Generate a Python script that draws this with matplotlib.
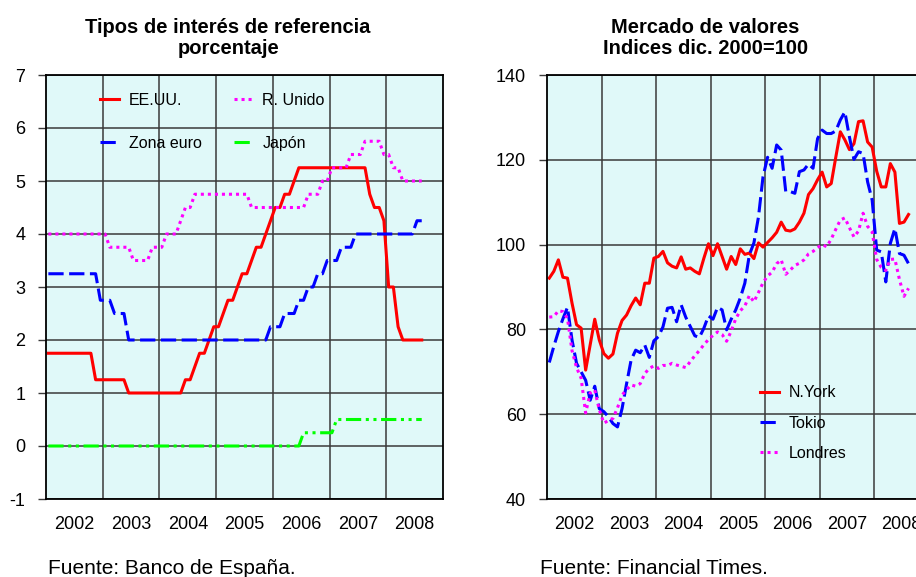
import numpy as np
import matplotlib.pyplot as plt

years = ['2002', '2003', '2004', '2005', '2006', '2007', '2008']

# tipos de interes de referencia, datos mensuales ene-2002 / ago-2008
eeuu = [1.75, 1.75, 1.75, 1.75, 1.75, 1.75, 1.75, 1.75, 1.75, 1.75, 1.25, 1.25,
        1.25, 1.25, 1.25, 1.25, 1.25, 1.0, 1.0, 1.0, 1.0, 1.0, 1.0, 1.0,
        1.0, 1.0, 1.0, 1.0, 1.0, 1.25, 1.25, 1.5, 1.75, 1.75, 2.0, 2.25,
        2.25, 2.5, 2.75, 2.75, 3.0, 3.25, 3.25, 3.5, 3.75, 3.75, 4.0, 4.25,
        4.5, 4.5, 4.75, 4.75, 5.0, 5.25, 5.25, 5.25, 5.25, 5.25, 5.25, 5.25,
        5.25, 5.25, 5.25, 5.25, 5.25, 5.25, 5.25, 5.25, 4.75, 4.5, 4.5, 4.25,
        3.0, 3.0, 2.25, 2.0, 2.0, 2.0, 2.0, 2.0]
zona_euro = [3.25, 3.25, 3.25, 3.25, 3.25, 3.25, 3.25, 3.25, 3.25, 3.25, 3.25, 2.75,
             2.75, 2.75, 2.5, 2.5, 2.5, 2.0, 2.0, 2.0, 2.0, 2.0, 2.0, 2.0,
             2.0, 2.0, 2.0, 2.0, 2.0, 2.0, 2.0, 2.0, 2.0, 2.0, 2.0, 2.0,
             2.0, 2.0, 2.0, 2.0, 2.0, 2.0, 2.0, 2.0, 2.0, 2.0, 2.0, 2.25,
             2.25, 2.25, 2.5, 2.5, 2.5, 2.75, 2.75, 3.0, 3.0, 3.25, 3.25, 3.5,
             3.5, 3.5, 3.75, 3.75, 3.75, 4.0, 4.0, 4.0, 4.0, 4.0, 4.0, 4.0,
             4.0, 4.0, 4.0, 4.0, 4.0, 4.0, 4.25, 4.25]
r_unido = [4.0, 4.0, 4.0, 4.0, 4.0, 4.0, 4.0, 4.0, 4.0, 4.0, 4.0, 4.0,
           4.0, 3.75, 3.75, 3.75, 3.75, 3.75, 3.5, 3.5, 3.5, 3.5, 3.75, 3.75,
           3.75, 4.0, 4.0, 4.0, 4.25, 4.5, 4.5, 4.75, 4.75, 4.75, 4.75, 4.75,
           4.75, 4.75, 4.75, 4.75, 4.75, 4.75, 4.75, 4.5, 4.5, 4.5, 4.5, 4.5,
           4.5, 4.5, 4.5, 4.5, 4.5, 4.5, 4.5, 4.75, 4.75, 4.75, 5.0, 5.0,
           5.25, 5.25, 5.25, 5.25, 5.5, 5.5, 5.5, 5.75, 5.75, 5.75, 5.75, 5.5,
           5.5, 5.25, 5.25, 5.0, 5.0, 5.0, 5.0, 5.0]
japon = [0.0, 0.0, 0.0, 0.0, 0.0, 0.0, 0.0, 0.0, 0.0, 0.0, 0.0, 0.0,
         0.0, 0.0, 0.0, 0.0, 0.0, 0.0, 0.0, 0.0, 0.0, 0.0, 0.0, 0.0,
         0.0, 0.0, 0.0, 0.0, 0.0, 0.0, 0.0, 0.0, 0.0, 0.0, 0.0, 0.0,
         0.0, 0.0, 0.0, 0.0, 0.0, 0.0, 0.0, 0.0, 0.0, 0.0, 0.0, 0.0,
         0.0, 0.0, 0.0, 0.0, 0.0, 0.0, 0.25, 0.25, 0.25, 0.25, 0.25, 0.25,
         0.25, 0.5, 0.5, 0.5, 0.5, 0.5, 0.5, 0.5, 0.5, 0.5, 0.5, 0.5,
         0.5, 0.5, 0.5, 0.5, 0.5, 0.5, 0.5, 0.5]

# bolsas, indices dic. 2000 = 100
nueva_york = [92.1, 93.7, 96.4, 92.3, 92.1, 86.2, 81.1, 80.3, 70.4, 76.4, 82.4, 77.5,
              74.3, 73.2, 74.2, 79.1, 82.1, 83.4, 85.6, 87.4, 85.8, 90.9, 90.9, 96.8,
              97.2, 98.4, 95.7, 94.9, 94.5, 97.1, 94.2, 94.5, 93.7, 93.1, 96.8, 100.2,
              97.4, 100.2, 97.2, 94.2, 97.2, 95.3, 99.0, 97.7, 98.0, 96.7, 100.4, 99.4,
              100.5, 101.6, 102.9, 105.3, 103.4, 103.2, 103.7, 105.3, 107.4, 111.8, 113.2, 115.3,
              117.1, 113.6, 114.4, 120.6, 126.6, 124.7, 122.4, 123.8, 129.0, 129.2, 124.2, 123.0,
              117.3, 113.6, 113.6, 119.1, 117.1, 105.0, 105.3, 107.1]
tokio = [72.2, 76.0, 79.5, 82.5, 85.2, 77.5, 72.0, 70.0, 68.0, 63.3, 66.6, 61.3,
         60.6, 59.4, 57.8, 57.0, 61.3, 67.2, 72.8, 75.1, 74.5, 76.3, 73.4, 77.3,
         78.3, 80.6, 85.0, 85.2, 81.8, 85.8, 82.9, 80.7, 78.5, 78.1, 80.3, 83.2,
         82.4, 85.2, 84.6, 79.9, 82.4, 84.6, 87.4, 90.9, 97.6, 100.4, 106.5, 116.0,
         120.6, 118.0, 123.5, 122.3, 112.5, 112.5, 112.1, 117.2, 117.6, 119.0, 118.0, 125.0,
         127.0, 126.2, 126.2, 126.8, 129.4, 131.3, 125.4, 120.1, 121.9, 121.5, 114.8, 110.5,
         98.7, 98.3, 91.2, 100.3, 103.8, 97.9, 97.5, 95.5]
londres = [82.9, 83.0, 84.4, 84.2, 82.6, 75.0, 71.0, 68.5, 60.3, 65.0, 65.7, 61.0,
           57.9, 58.5, 59.0, 61.5, 64.5, 65.8, 66.9, 66.6, 67.2, 69.6, 70.8, 71.4,
           70.8, 71.5, 71.5, 72.0, 71.6, 71.3, 71.0, 72.4, 73.8, 75.0, 76.4, 77.6,
           78.6, 79.4, 78.8, 77.2, 79.6, 82.5, 84.4, 85.5, 88.0, 86.5, 88.7, 91.0,
           92.6, 93.5, 95.5, 96.4, 93.0, 94.0, 95.1, 95.6, 96.4, 97.8, 98.4, 99.3,
           100.0, 99.5, 101.3, 103.6, 105.8, 106.3, 104.0, 101.8, 103.2, 107.4, 104.3, 103.0,
           96.5, 94.6, 93.9, 96.5, 96.6, 91.8, 87.8, 89.7]

bg = '#E0F9F9'
grid_col = '#3a3a3a'

plt.rcParams['font.family'] = ['Liberation Sans', 'DejaVu Sans']
plt.rcParams['axes.unicode_minus'] = False

fig = plt.figure(figsize=(9.16, 5.77), dpi=100)
ax1 = fig.add_axes([46 / 916, 1 - 499 / 577, 397 / 916, 424 / 577])
# el grafico de la derecha queda cortado por el borde, como en el original
ax2 = fig.add_axes([547 / 916, 1 - 499 / 577, 382 / 916, 424 / 577])


def setup(ax, ymin, ymax, yticks):
    ax.set_facecolor(bg)
    ax.set_xlim(0, 84)
    ax.set_ylim(ymin, ymax)
    ax.set_yticks(yticks)
    ax.set_xticks(np.arange(12, 84, 12))
    ax.set_xticks(np.arange(6, 84, 12), minor=True)
    ax.set_xticklabels(years, minor=True)
    ax.tick_params(axis='x', which='major', length=0, labelbottom=False)
    ax.tick_params(axis='x', which='minor', length=0, pad=12.5, labelsize=13)
    ax.tick_params(axis='y', length=5.5, width=1, color=grid_col, pad=9.5, labelsize=13)
    ax.grid(True, which='major', color=grid_col, lw=1.1)
    ax.set_axisbelow(True)
    for s in ax.spines.values():
        s.set_color('black')
        s.set_linewidth(1.3)


x = np.arange(len(eeuu)) + 0.5
lw = 2.2

setup(ax1, -1, 7, range(-1, 8))
l_us, = ax1.plot(x, eeuu, color='#FF0000', lw=lw, label='EE.UU.')
l_eu, = ax1.plot(x, zona_euro, color='#0000FF', lw=lw, dashes=(5.0, 1.8), label='Zona euro')
l_uk, = ax1.plot(x, r_unido, color='#FF00FF', lw=lw, dashes=(1.0, 1.3), label='R. Unido')
l_jp, = ax1.plot(x, japon, color='#00FF00', lw=lw, dashes=(5.0, 1.5, 1.0, 1.5, 1.0, 1.5), label='Japón')
ax1.legend(handles=[l_us, l_eu, l_uk, l_jp], ncol=2, loc='upper left',
           bbox_to_anchor=(0.136, 0.958), frameon=False, fontsize=11.5,
           borderpad=0, borderaxespad=0, handlelength=1.2, handletextpad=0.6,
           columnspacing=2.0, labelspacing=1.75)

setup(ax2, 40, 140, range(40, 141, 20))
ax2.plot(x, nueva_york, color='#FF0000', lw=lw, label='N.York')
ax2.plot(x, tokio, color='#0000FF', lw=lw, dashes=(5.0, 1.8), label='Tokio')
ax2.plot(x, londres, color='#FF00FF', lw=lw, dashes=(1.0, 1.3), label='Londres')
ax2.legend(loc='upper left', bbox_to_anchor=(0.5576, 0.268), frameon=False,
           fontsize=11.5, borderpad=0, borderaxespad=0, handlelength=1.2,
           handletextpad=0.6, labelspacing=0.95)

fig.text(0.249, 0.934, 'Tipos de interés de referencia\nporcentaje', ha='center',
         va='center', fontsize=14.5, fontweight='bold', linespacing=1.1)
fig.text(0.77, 0.934, 'Mercado de valores\nIndices dic. 2000=100', ha='center',
         va='center', fontsize=14.5, fontweight='bold', linespacing=1.1)

fig.text(48 / 916, 1 - 568 / 577, 'Fuente: Banco de España.', ha='left', va='center', fontsize=15)
fig.text(540 / 916, 1 - 568 / 577, 'Fuente: Financial Times.', ha='left', va='center', fontsize=15)

fig.savefig('out.png', dpi=100)
